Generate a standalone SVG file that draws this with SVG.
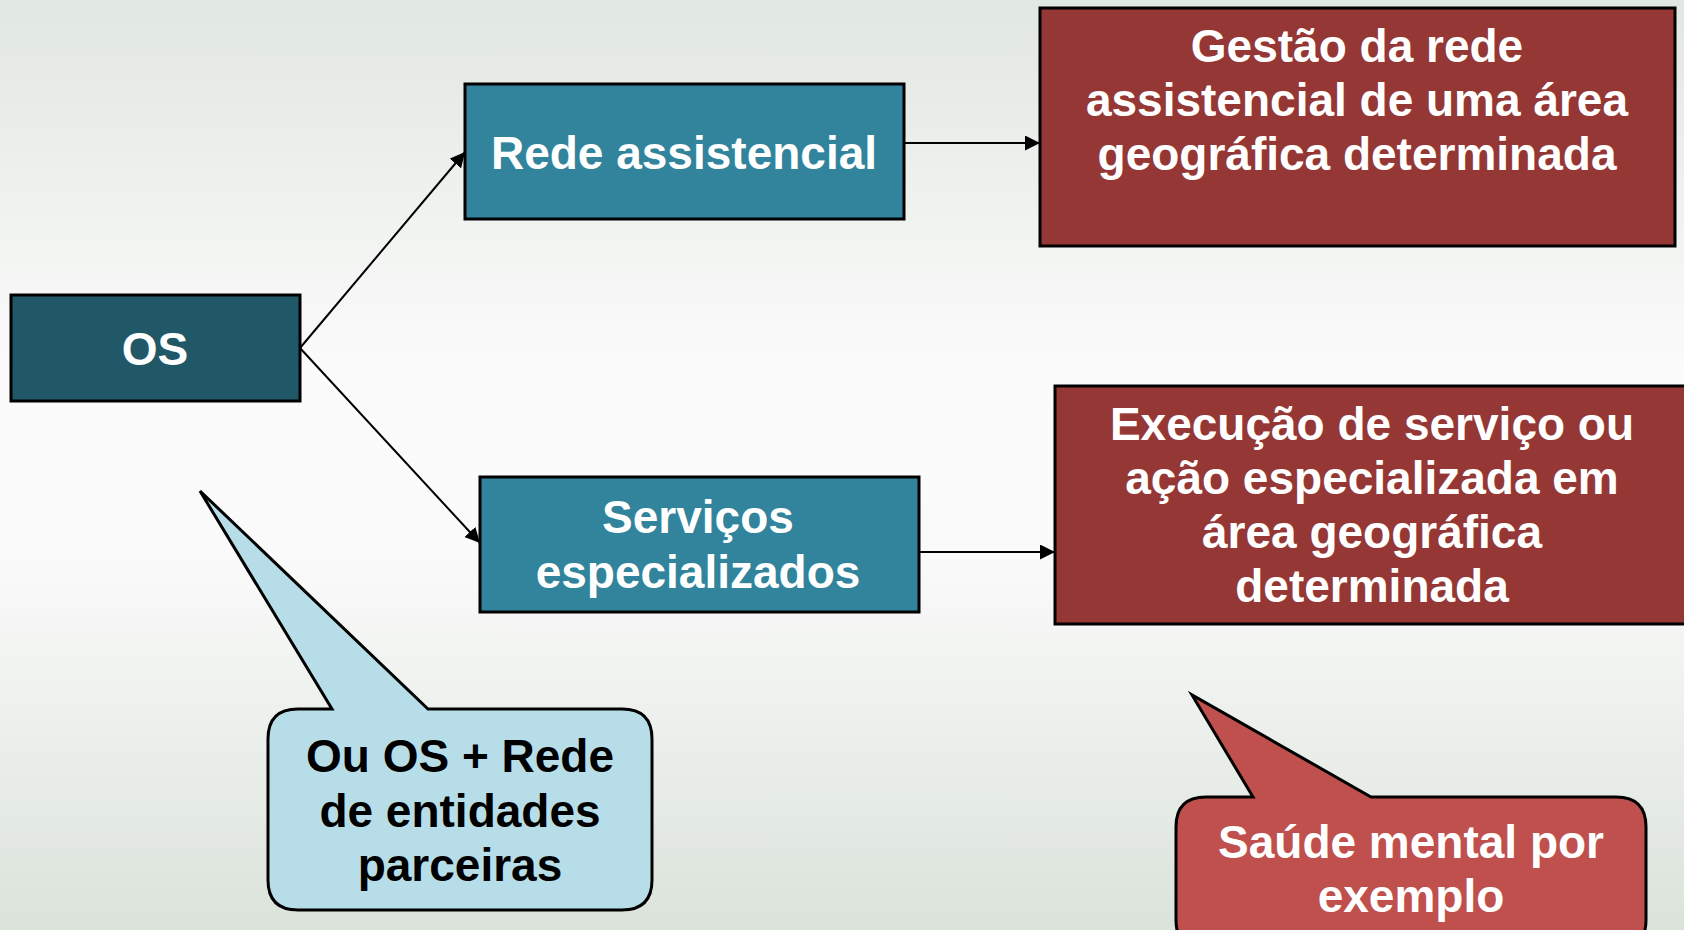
<svg xmlns="http://www.w3.org/2000/svg" width="1684" height="930" viewBox="0 0 1684 930">
<defs>
<linearGradient id="bg" x1="0" y1="0" x2="0" y2="1">
<stop offset="0" stop-color="#e1e7e1"/>
<stop offset="0.4" stop-color="#fbfbfb"/>
<stop offset="0.6" stop-color="#fafafa"/>
<stop offset="1" stop-color="#dbe3da"/>
</linearGradient>
<marker id="arrS" viewBox="0 0 10 10" refX="10" refY="5" markerWidth="7.5" markerHeight="7.5" orient="auto">
<path d="M0,0 L10,5 L0,10 z" fill="#000"/>
</marker>
</defs>
<style>
.box{stroke:#000;stroke-width:3}
.t{font-family:"Liberation Sans",Arial,sans-serif;font-weight:bold;font-size:46px;text-anchor:middle;fill:#fff}
.tb{fill:#000}
.c{fill:none;stroke:#000;stroke-width:2}
</style>
<rect width="1684" height="930" fill="url(#bg)"/>

<g id="connectors">
<line class="c" x1="300" y1="348" x2="465" y2="152" marker-end="url(#arrS)"/>
<line class="c" x1="300" y1="348" x2="480" y2="543" marker-end="url(#arrS)"/>
<line class="c" x1="904" y1="143" x2="1040" y2="143" marker-end="url(#arrS)"/>
<line class="c" x1="919" y1="552" x2="1055" y2="552" marker-end="url(#arrS)"/>
</g>

<g id="os">
<rect class="box" x="11" y="295" width="289" height="106" fill="#215868"/>
<text class="t" x="155" y="365">OS</text>
</g>

<g id="rede">
<rect class="box" x="465" y="84" width="439" height="135" fill="#31849b"/>
<text class="t" x="684" y="169">Rede assistencial</text>
</g>

<g id="servicos">
<rect class="box" x="480" y="477" width="439" height="135" fill="#31849b"/>
<text class="t" x="698" y="533">Serviços</text>
<text class="t" x="698" y="588">especializados</text>
</g>

<g id="gestao">
<rect class="box" x="1040" y="8" width="635" height="238" fill="#953735"/>
<text class="t" x="1357" y="62">Gestão da rede</text>
<text class="t" x="1357" y="116">assistencial de uma área</text>
<text class="t" x="1357" y="170">geográfica determinada</text>
</g>

<g id="execucao">
<rect class="box" x="1055" y="386" width="640" height="238" fill="#953735"/>
<text class="t" x="1372" y="440">Execução de serviço ou</text>
<text class="t" x="1372" y="494">ação especializada em</text>
<text class="t" x="1372" y="548">área geográfica</text>
<text class="t" x="1372" y="602">determinada</text>
</g>

<g id="callout-os">
<path class="box" fill="#b7dee8" d="M298,709 L332,709 L200,491 L428,709 L622,709 Q652,709 652,739 L652,880 Q652,910 622,910 L298,910 Q268,910 268,880 L268,739 Q268,709 298,709 Z"/>
<text class="t tb" x="460" y="772">Ou OS + Rede</text>
<text class="t tb" x="460" y="827">de entidades</text>
<text class="t tb" x="460" y="881">parceiras</text>
</g>

<g id="callout-saude">
<path class="box" fill="#c0504d" d="M1206,797 L1253,797 L1192,695 L1371,797 L1616,797 Q1646,797 1646,827 L1646,920 Q1646,950 1616,950 L1206,950 Q1176,950 1176,920 L1176,827 Q1176,797 1206,797 Z"/>
<text class="t" x="1411" y="858">Saúde mental por</text>
<text class="t" x="1411" y="912">exemplo</text>
</g>
</svg>
